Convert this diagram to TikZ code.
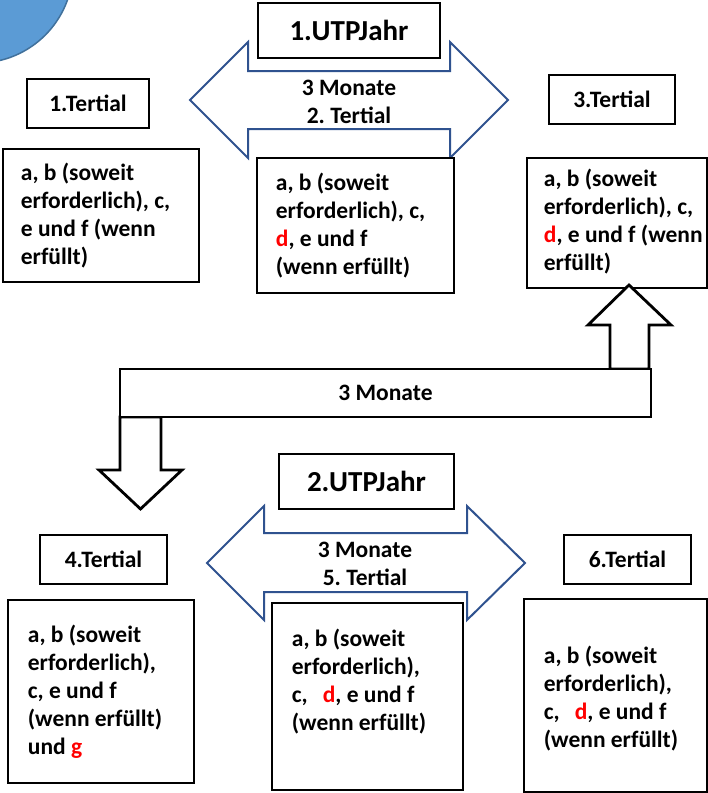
\documentclass[tikz,border=0pt]{standalone}
\usepackage{fontspec}
\setmainfont{Carlito}
\frenchspacing
\definecolor{arrowblue}{HTML}{2F528F}
\definecolor{circleblue}{HTML}{5B9BD5}
\definecolor{circleedge}{HTML}{41719C}
\begin{document}
\begin{tikzpicture}[x=1pt, y=-1pt,
  tertial node/.style={rectangle, draw, line width=2.8pt, minimum height=49pt, inner sep=0pt},
  jahr node/.style={rectangle, draw, line width=2.8pt, minimum height=55pt, inner sep=0pt, font=\bfseries\fontsize{29}{34}\selectfont},
  inhalt box/.style={rectangle, draw, fill=white, line width=2.6pt, inner sep=0pt},
  inhalt text/.style={anchor=west, align=left, inner sep=0pt},
  blue arrow/.style={draw=arrowblue, line width=2pt, fill=white, line join=miter},
  white arrow/.style={draw, line width=2.8pt, fill=white, line join=miter}]
        \tikzstyle{every node}=[font=\bfseries\fontsize{23.5}{28}\selectfont]

          \useasboundingbox (0,0) rectangle (708,793);
          \clip (0,0) rectangle (708,793);

          \draw[fill=circleblue, draw=circleedge, line width=1.5pt] (-22,-32) circle (95pt);

          \draw[blue arrow] (190,100) -- (248,42) -- (248,71) -- (450,71) -- (450,42) -- (508,100)
            -- (450,158) -- (450,129) -- (248,129) -- (248,158) -- cycle;
          \node[align=center] (m1) at (349,102) {3 Monate\\2. Tertial};

          \node[jahr node, minimum width=182pt] (j1) at (349,30.5) {1.UTPJahr\hspace{12pt}};
          \node[tertial node, minimum width=122pt] (t1) at (88,103.5) {1.Tertial};
          \node[tertial node, minimum width=126pt] (t3) at (612,99.5) {3.Tertial};

          \node[inhalt box, minimum width=196pt, minimum height=133pt] (b1) at (101,215.5) {};
          \node[inhalt text] (x1) at ([xshift=19pt]b1.west) {a, b (soweit\\erforderlich), c,\\e und f (wenn\\erfüllt)};
          \node[inhalt box, minimum width=197pt, minimum height=135pt] (b2) at (355.5,225.5) {};
          \node[inhalt text] (x2) at ([xshift=20pt]b2.west) {a, b (soweit\\erforderlich), c,\\{\color{red}d}, e und f\\(wenn erfüllt)};
          \node[inhalt box, minimum width=180pt, minimum height=130pt] (b3) at (617,223) {};
          \node[inhalt text] (x3) at ([xshift=18pt, yshift=1pt]b3.west) {a, b (soweit\\erforderlich), c,\\{\color{red}d}, e und f (wenn\\erfüllt)};

          \draw[white arrow] (610,369) -- (610,325) -- (588,325) -- (629,285) -- (671,325) -- (649,325) -- (649,369) -- cycle;
          \draw[white arrow] (120,417) -- (120,470) -- (99,470) -- (140.5,509) -- (182,470) -- (161,470) -- (161,417) -- cycle;
          \node[draw, fill=white, line width=2.8pt, minimum width=531pt, minimum height=48pt, inner sep=0pt] (bar) at (385.5,393) {3 Monate};

          \draw[blue arrow] (207,563) -- (264,506) -- (264,533) -- (467,533) -- (467,506) -- (525,563)
            -- (467,620) -- (467,592) -- (264,592) -- (264,620) -- cycle;
          \node[align=center] (m2) at (365,564) {3 Monate\\5. Tertial};

          \node[jahr node, minimum width=175pt] (j2) at (366.5,481.5) {2.UTPJahr\hspace{10pt}};
          \node[tertial node, minimum width=127pt] (t4) at (103.5,559.5) {4.Tertial};
          \node[tertial node, minimum width=127pt] (t6) at (627.5,559.5) {6.Tertial};

          \node[inhalt box, minimum width=186pt, minimum height=183pt] (b4) at (101,691.5) {};
          \node[inhalt text] (x4) at ([xshift=21pt]b4.west) {a, b (soweit\\erforderlich),\\c, e und f\\(wenn erfüllt)\\und {\color{red}g}};
          \node[inhalt box, minimum width=191pt, minimum height=187pt] (b5) at (367.5,696.5) {};
          \node[inhalt text] (x5) at ([xshift=21pt, yshift=15pt]b5.west) {a, b (soweit\\erforderlich),\\c,\hspace{15pt}{\color{red}d}, e und f\\(wenn erfüllt)};
          \node[inhalt box, minimum width=183pt, minimum height=193pt] (b6) at (615.5,695.5) {};
          \node[inhalt text] (x6) at ([xshift=21pt, yshift=-3pt]b6.west) {a, b (soweit\\erforderlich),\\c,\hspace{15pt}{\color{red}d}, e und f\\(wenn erfüllt)};

        \end{tikzpicture}
\end{document}
